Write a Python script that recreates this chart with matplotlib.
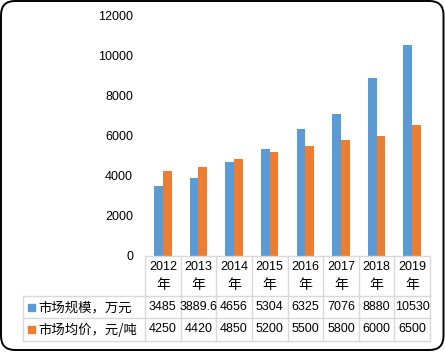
import matplotlib
matplotlib.use('Agg')
import matplotlib.pyplot as plt
from matplotlib import transforms
from matplotlib.patches import FancyBboxPatch, Rectangle
import numpy as np

plt.rcParams['font.family'] = ['Liberation Sans', 'Noto Sans CJK SC', 'DejaVu Sans']

years = ['2012', '2013', '2014', '2015', '2016', '2017', '2018', '2019']
scale = [3485, 3889.6, 4656, 5304, 6325, 7076, 8880, 10530]
price = [4250, 4420, 4850, 5200, 5500, 5800, 6000, 6500]
scale_labels = ['3485', '3889.6', '4656', '5304', '6325', '7076', '8880', '10530']
price_labels = ['4250', '4420', '4850', '5200', '5500', '5800', '6000', '6500']
series_names = ['市场规模，万元', '市场均价，元/吨']
colors = ['#5B9BD5', '#ED7D31']
grid_color = '#D9D9D9'
cjk = ['Noto Sans CJK SC', 'DejaVu Sans']

W, H = 445, 352
fig = plt.figure(figsize=(W / 100, H / 100), dpi=100)
fig.patch.set_facecolor('white')

# overlay in pixel units (y down) for frame and table
ov = fig.add_axes([0, 0, 1, 1])
ov.set_xlim(0, W)
ov.set_ylim(H, 0)
ov.axis('off')
ov.add_patch(FancyBboxPatch((1, 1), W - 2.5, H - 3,
                            boxstyle='round,pad=0,rounding_size=14',
                            fc='white', ec='black', lw=1.4))

ax = fig.add_axes([145 / W, 1 - 256 / H, (430 - 145) / W, (256 - 15) / H])
ax.set_facecolor('none')
x = np.arange(len(years))
bw = 0.245
ax.bar(x - bw / 2, scale, bw, color=colors[0])
ax.bar(x + bw / 2, price, bw, color=colors[1])
ax.set_xlim(-0.5, len(years) - 0.5)
ax.set_ylim(0, 12000)
ax.set_yticks(range(0, 12001, 2000))
ax.tick_params(axis='y', length=0, pad=8.6, labelsize=9)
ax.set_xticks([])
for s in ax.spines.values():
    s.set_visible(False)

# data table under the axis
tr = transforms.blended_transform_factory(ax.transData, ov.transData)
lk = dict(color=grid_color, lw=1, clip_on=False)
top, r1, r2, bot = 256, 296, 318, 341
ax.plot([-0.5, len(years) - 0.5], [top, top], transform=tr, **lk)
for yy in (r1, r2, bot):
    ov.plot([23, 430], [yy, yy], **lk)
ov.plot([23, 23], [r1, bot], **lk)
for i in range(len(years) + 1):
    ax.plot([i - 0.5, i - 0.5], [top, bot], transform=tr, **lk)

for i, yr in enumerate(years):
    ax.text(i, 267, yr, transform=tr, ha='center', va='center', fontsize=9)
    ax.text(i, 285, '年', transform=tr, ha='center', va='center', fontsize=10, family=cjk)
    ax.text(i, 307.5, scale_labels[i], transform=tr, ha='center', va='center', fontsize=9)
    ax.text(i, 329.5, price_labels[i], transform=tr, ha='center', va='center', fontsize=9)

for k, (name, c) in enumerate(zip(series_names, colors)):
    yc = 307.5 + 22 * k
    ov.add_patch(Rectangle((28, yc - 3.5), 7, 7, color=c))
    ov.text(38, yc, name, ha='left', va='center', fontsize=9.6, family=cjk)

fig.savefig('out.png', dpi=100)
